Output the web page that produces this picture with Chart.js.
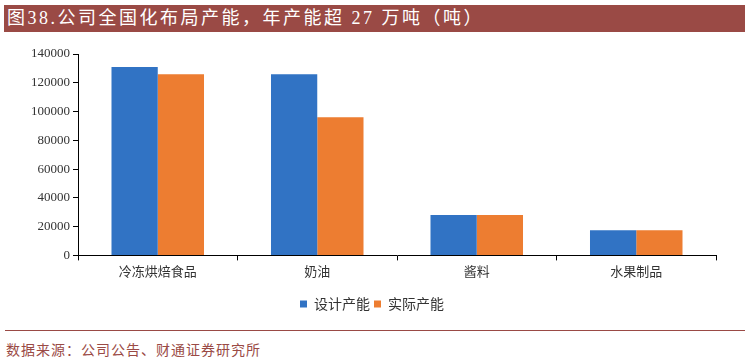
<!DOCTYPE html>
<html>
<head>
<meta charset="utf-8">
<script src="https://cdn.jsdelivr.net/npm/chart.js@4"></script>
<style>
  body { margin: 0; width: 748px; height: 360px; background: #fff; position: relative; overflow: hidden; }
  .title {
    position: absolute; left: 4px; top: 5px; width: 741px; height: 27px;
    background: #9A4A45; color: #fff;
    font-family: "Liberation Serif", "Noto Sans CJK SC", serif; font-size: 18px; letter-spacing: 2.5px;
    line-height: 27px; padding-left: 3px; box-sizing: border-box; white-space: nowrap;
  }
  .chartbox { position: absolute; left: 0; top: 35px; width: 748px; height: 290px; }
  .rule { position: absolute; left: 5px; top: 330px; width: 740px; height: 1px; background: #9A4A45; }
  .source {
    position: absolute; left: 6px; top: 339px;
    font-family: "Liberation Serif", "Noto Sans CJK SC", serif; font-size: 14px; color: #9A4A45;
    letter-spacing: 1px; white-space: nowrap;
  }
</style>
</head>
<body>
<div class="title">图38.公司全国化布局产能，年产能超 27 万吨（吨）</div>
<div class="chartbox"><canvas id="capChart" width="748" height="290"></canvas></div>
<div class="rule"></div>
<div class="source">数据来源：公司公告、财通证券研究所</div>
<script>
const categories = ["冷冻烘焙食品", "奶油", "酱料", "水果制品"];
const designCap = [131000, 126000, 28000, 17500];
const actualCap = [126000, 96000, 28000, 17500];
const yTicks = [0, 20000, 40000, 60000, 80000, 100000, 120000, 140000];

window.onload = function() {
    const ctx = document.getElementById('capChart').getContext('2d');

    new Chart(ctx, {
        type: 'bar',
        data: {
            labels: categories,
            datasets: [{
                label: "设计产能",
                data: designCap,
                backgroundColor: "#3173C4",
                borderWidth: 0,
                categoryPercentage: 0.58,
                barPercentage: 1.0
            }, {
                label: "实际产能",
                data: actualCap,
                backgroundColor: "#ED7D31",
                borderWidth: 0,
                categoryPercentage: 0.58,
                barPercentage: 1.0
            }]
        },
        options: {
            responsive: false,
            animation: false,
            layout: {
                padding: { top: 19, left: 28, right: 32, bottom: 4 }
            },
            plugins: {
                tooltip: { enabled: false },
                legend: {
                    position: 'bottom',
                    labels: {
                        boxWidth: 7,
                        boxHeight: 7,
                        padding: 4,
                        color: '#333',
                        font: { family: '"Noto Sans CJK SC", sans-serif', size: 14 }
                    }
                }
            },
            scales: {
                x: {
                    border: { color: '#000', width: 1 },
                    grid: { drawOnChartArea: false, drawTicks: true, tickLength: 5, color: '#000' },
                    ticks: {
                        color: '#333',
                        padding: 3,
                        font: { family: '"Noto Sans CJK SC", sans-serif', size: 13 }
                    },
                    afterFit: function(axis) { axis.height += 11; }
                },
                y: {
                    min: 0,
                    max: 140000,
                    afterBuildTicks: function(axis) {
                        axis.ticks = yTicks.map(v => ({ value: v }));
                    },
                    border: { color: '#000', width: 1 },
                    grid: { drawOnChartArea: false, drawTicks: true, tickLength: 5, color: '#000' },
                    ticks: {
                        color: '#333',
                        padding: 3,
                        font: { family: '"Liberation Serif", serif', size: 13 },
                        callback: function(value) { return String(value); }
                    }
                }
            }
        }
    });
};
</script>
</body>
</html>
